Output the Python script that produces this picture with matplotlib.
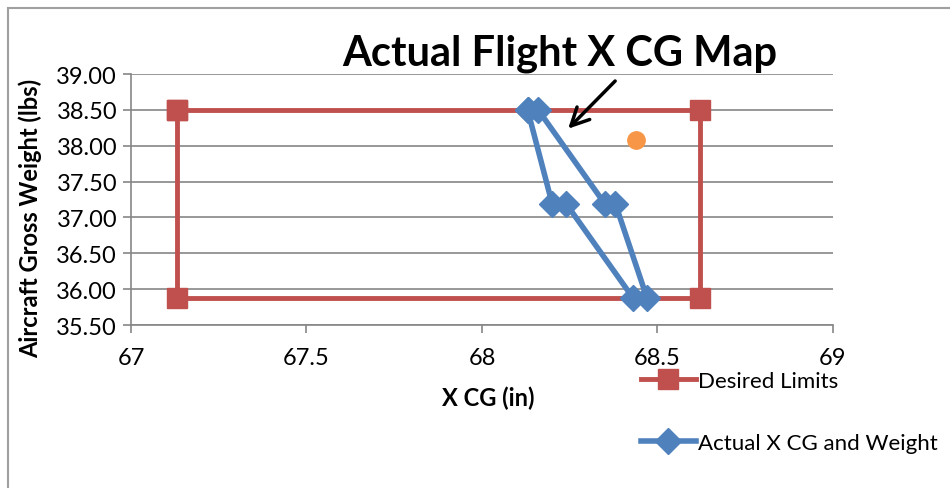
import matplotlib.pyplot as plt
from matplotlib.patches import Rectangle

plt.rcParams['font.family'] = ['Lato', 'DejaVu Sans']

# Desired CG envelope (closed rectangle)
limits_x = [67.13, 68.62, 68.62, 67.13, 67.13]
limits_w = [38.50, 38.50, 35.88, 35.88, 38.50]

# Actual flight CG path
actual_x = [68.13, 68.20, 68.24, 68.43, 68.47, 68.38, 68.35, 68.16, 68.13]
actual_w = [38.50, 37.19, 37.19, 35.88, 35.88, 37.19, 37.19, 38.50, 38.50]

# single extra point
extra_x = [68.44]
extra_w = [38.08]

red = '#C0504D'
blue = '#4F81BD'
orange = '#F79646'
grey = '#868686'

fig = plt.figure(figsize=(9.5, 4.89), dpi=100)
ax = fig.add_axes([0.1379, 0.3333, 0.7389, 0.5133])

ax.plot(limits_x, limits_w, color=red, lw=3.5, marker='s', ms=14,
        label='Desired Limits', zorder=3)
ax.plot(actual_x, actual_w, color=blue, lw=4, marker='D', ms=13.5,
        label='Actual X CG and Weight', zorder=4)
ax.plot(extra_x, extra_w, ls='none', marker='o', ms=12.5, color=orange, zorder=4)

ax.set_xlim(67, 69)
ax.set_ylim(35.5, 39.0)
ax.set_xticks([67, 67.5, 68, 68.5, 69])
ax.set_xticklabels(['67', '67.5', '68', '68.5', '69'])
ax.set_yticks([35.5, 36, 36.5, 37, 37.5, 38, 38.5, 39])
ax.set_yticklabels([f'{v:.2f}' for v in [35.5, 36, 36.5, 37, 37.5, 38, 38.5, 39]])

ax.grid(axis='y', color=grey, lw=1.2)
ax.set_axisbelow(True)
for s in ['top', 'right']:
    ax.spines[s].set_visible(False)
for s in ['left', 'bottom']:
    ax.spines[s].set_color(grey)
    ax.spines[s].set_linewidth(1.2)
ax.tick_params(colors=grey, labelcolor='black', labelsize=17, length=6, width=1.2)
ax.tick_params(axis='x', pad=10)
ax.tick_params(axis='y', pad=4)

ax.set_xlabel('X CG (in)', fontsize=17, fontweight='bold')
ax.xaxis.set_label_coords(0.509, -0.241)
ax.set_ylabel('Aircraft Gross Weight (lbs)', fontsize=17, fontweight='bold')
ax.yaxis.set_label_coords(-0.127, 0.43)

fig.text(0.589, 0.89, 'Actual Flight X CG Map', fontsize=30, fontweight='bold',
         ha='center', va='center')
ax.annotate('', xy=(68.24, 38.21), xytext=(68.385, 38.93),
            arrowprops=dict(arrowstyle='->', color='black', lw=2.5,
                            mutation_scale=32), annotation_clip=False)

leg = ax.legend(loc='upper left', bbox_to_anchor=(0.665, 0.258),
                bbox_transform=fig.transFigure, frameon=False, fontsize=16,
                handlelength=2.5, handletextpad=0.1, labelspacing=1.9,
                borderaxespad=0)

fig.add_artist(Rectangle((8 / 950, -0.1), 1.2, 1.1 - 9 / 489,
                         transform=fig.transFigure, fill=False,
                         edgecolor='#A0A0A0', lw=1.5))

fig.savefig('out.png', dpi=100)
